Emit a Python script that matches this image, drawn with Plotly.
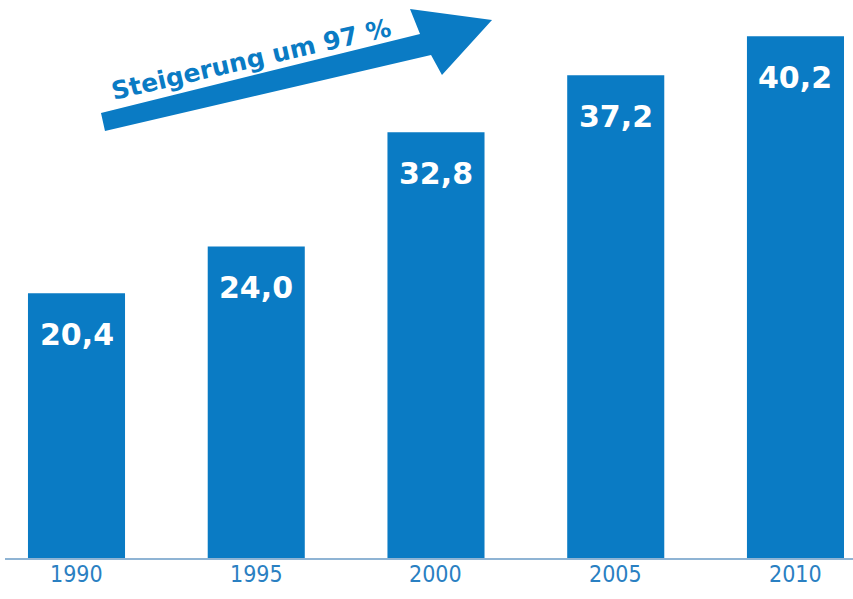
import plotly.graph_objects as go

years = ["1990", "1995", "2000", "2005", "2010"]
values = [20.4, 24.0, 32.8, 37.2, 40.2]
headline = "Steigerung um 97 %"

BAR = "#0a7bc4"
TICK = "#2a80c2"
W, H = 853, 599
ML, MR, MT, MB = 5, 0, 0, 41
PW, PH = W - ML - MR, H - MT - MB

def px(x, y):
    """pixel -> paper coordinates (decoration only)"""
    return (x - ML) / PW, 1 - (y - MT) / PH

fig = go.Figure(go.Bar(
    x=years, y=values, width=0.54, marker=dict(color=BAR, line=dict(width=0)),
    hoverinfo="skip"))

for i, (yr, v) in enumerate(zip(years, values)):
    fig.add_annotation(x=i, y=v, xref="x", yref="y", yshift=-41,
                       text=f"{v:.1f}".replace(".", ","),
                       showarrow=False, xanchor="center", yanchor="middle",
                       font=dict(family="DejaVu Sans", size=30, color="white", weight="bold"))
    fig.add_annotation(x=i, y=0, xref="x", yref="paper", yshift=-16, text=yr,
                       showarrow=False, xanchor="center", yanchor="middle",
                       font=dict(family="Liberation Sans Narrow, DejaVu Sans Condensed, Roboto Condensed, Roboto, sans-serif",
                                 size=23, color=TICK))

# decorative arrow
pts = [(101, 113), (420, 34), (410, 9), (492, 20), (442, 75), (431, 55), (105, 131)]
path = "M " + " L ".join(f"{a:.4f},{b:.4f}" for a, b in (px(x, y) for x, y in pts)) + " Z"
fig.add_shape(type="path", xref="paper", yref="paper", path=path,
              fillcolor=BAR, line=dict(width=0), layer="above")
tx, ty = px(251, 59)
fig.add_annotation(xref="paper", yref="paper", x=tx, y=ty, text=headline, showarrow=False,
                   textangle=-13, xanchor="center", yanchor="middle",
                   font=dict(family="DejaVu Sans", size=25, color=BAR, weight="bold"))

fig.update_layout(
    width=W, height=H, margin=dict(l=ML, r=MR, t=MT, b=MB),
    paper_bgcolor="white", plot_bgcolor="white", showlegend=False,
    xaxis=dict(type="category", range=[-0.3978, 4.32], showgrid=False, zeroline=False,
               showline=True, linecolor="#8fb4d4", linewidth=2, ticks="",
               showticklabels=False),
    yaxis=dict(range=[0, 43], visible=False, showgrid=False, zeroline=False),
)
fig.write_html("out.html", config={"displayModeBar": False},
               post_script="document.body.style.margin='0';document.body.style.overflow='hidden';")
